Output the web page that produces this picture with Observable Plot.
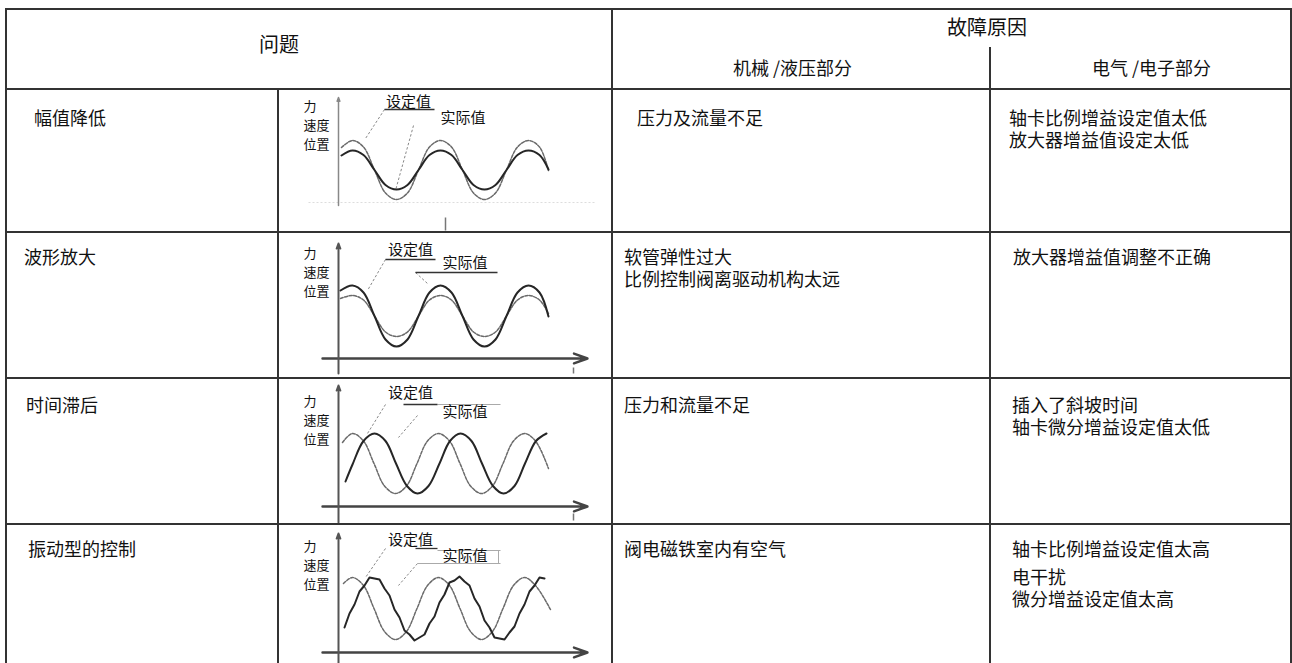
<!DOCTYPE html>
<html><head><meta charset="utf-8">
<script src="https://cdn.jsdelivr.net/npm/d3@7"></script>
<script src="https://cdn.jsdelivr.net/npm/@observablehq/plot@0.6"></script>
<style>
html,body{margin:0;padding:0;background:#fff;}
body{width:1292px;height:663px;overflow:hidden;position:relative;font-family:"Noto Sans CJK SC","Noto Sans",sans-serif;color:#111;}
.hl{position:absolute;height:2px;background:#333;}
.vl{position:absolute;width:2px;background:#333;}
.tx{position:absolute;white-space:pre;}
.cell{position:absolute;overflow:hidden;}
.cell svg{max-width:none !important;display:block;}
</style></head><body>
<div id="root"></div>
<script>
// ---------- table content ----------
const headerProblem = "问题";
const headerCause = "故障原因";
const subHeaders = ["机械 /液压部分", "电气 /电子部分"];
const problems = ["幅值降低", "波形放大", "时间滞后", "振动型的控制"];
const mechCauses = [["压力及流量不足"], ["软管弹性过大", "比例控制阀离驱动机构太远"], ["压力和流量不足"], ["阀电磁铁室内有空气"]];
const elecCauses = [["轴卡比例增益设定值太低", "放大器增益值设定太低"], ["放大器增益值调整不正确"], ["插入了斜坡时间", "轴卡微分增益设定值太低"], ["轴卡比例增益设定值太高", "电干扰", "微分增益设定值太高"]];
const axisLabels = ["力", "速度", "位置"];
const seriesNames = ["设定值", "实际值"];

// ---------- waveforms (t = time, v = value) ----------
const tSet1 = [0.3,1.4,2.5,3.6,4.7,5.8,6.9,8.0,9.1,10.2,11.3,12.4,13.5,14.6,15.7,16.8,17.9,19.0,20.1,21.0];
const vSet1 = [6.9,7.6,6.95,4.65,2.35,1.7,2.35,4.65,6.95,7.6,6.95,4.65,2.35,1.7,2.35,4.65,6.95,7.6,6.95,4.6];
const tAct1 = [0.3,1.4,2.5,3.6,4.7,5.8,6.9,8.0,9.1,10.2,11.3,12.4,13.5,14.6,15.7,16.8,17.9,19.0,20.1,21.0];
const vAct1 = [6.1,6.6,6.15,4.65,3.15,2.7,3.15,4.65,6.15,6.6,6.15,4.65,3.15,2.7,3.15,4.65,6.15,6.6,6.15,4.7];

const tSet2 = [0.2,1.4,2.5,3.6,4.7,5.8,6.9,8.0,9.1,10.2,11.3,12.4,13.5,14.6,15.7,16.8,17.9,19.0,20.1,21.0];
const vSet2 = [6.1,6.4,5.95,4.35,2.75,2.3,2.75,4.35,5.95,6.4,5.95,4.35,2.75,2.3,2.75,4.35,5.95,6.4,5.95,4.6];
const tAct2 = [0.2,1.4,2.5,3.6,4.7,5.8,6.9,8.0,9.1,10.2,11.3,12.4,13.5,14.6,15.7,16.8,17.9,19.0,20.1,21.0];
const vAct2 = [6.9,7.4,6.7,4.35,2.0,1.3,2.0,4.35,6.7,7.4,6.7,4.35,2.0,1.3,2.0,4.35,6.7,7.4,6.7,4.3];

const tSet3 = [0.4,1.4,2.5,3.55,4.6,5.7,6.8,7.85,8.9,10.0,11.1,12.15,13.2,14.3,15.4,16.45,17.5,18.6,19.7,21.0];
const vSet3 = [6.3,7.2,6.45,4.2,1.95,1.2,1.95,4.2,6.45,7.2,6.45,4.2,1.95,1.2,1.95,4.2,6.45,7.2,6.45,3.7];
const tAct3 = [0.7,1.4,2.5,3.6,4.7,5.75,6.85,7.9,9.0,10.1,11.15,12.2,13.3,14.35,15.45,16.5,17.6,18.65,19.75,20.8];
const vAct3 = [2.4,4.1,6.45,7.2,6.45,4.2,1.95,1.2,1.95,4.2,6.45,7.2,6.45,4.2,1.95,1.2,1.95,4.2,6.45,7.2];

const tSet4 = [0.5,1.4,2.5,3.55,4.6,5.7,6.8,7.85,8.9,10.0,11.1,12.15,13.2,14.3,15.4,16.45,17.5,18.6,19.7,21.2];
const vSet4 = [6.8,7.4,6.6,4.3,2.0,1.2,2.0,4.3,6.6,7.4,6.6,4.3,2.0,1.2,2.0,4.3,6.6,7.4,6.6,4.2];
const tAct4 = [0.6,1.1,1.6,2.1,2.6,3.1,3.6,4.1,4.6,5.1,5.6,6.1,6.6,7.1,7.6,8.1,8.6,9.1,9.6,10.1,10.6,11.1,11.6,12.1,12.6,13.1,13.6,14.1,14.6,15.1,15.6,16.1,16.6,17.1,17.6,18.1,18.6,19.1,19.6,20.1,20.6];
const vAct4 = [2.4,3.8,4.7,6.0,6.6,7.4,7.3,7.2,6.3,5.6,4.2,3.4,2.1,1.7,1.1,1.4,1.7,2.8,3.5,4.9,5.7,6.9,7.1,7.5,7.0,6.6,5.3,4.5,3.1,2.4,1.4,1.3,1.2,1.9,2.5,3.8,4.7,6.0,6.6,7.4,7.3];

// ---------- annotation geometry in data units (t, v) ----------
const labelTopV = [11.9, 11.5, 11.3, 11.4];
const nameAt = [[[7.0, 11.4], [12.45, 9.8]], [[7.2, 10.9], [12.65, 9.6]], [[7.2, 11.2], [12.65, 9.3]], [[7.2, 11.1], [12.65, 9.5]]];
const darkSegs = [
  [[4.6,10.7,9.6,10.7]],
  [[4.7,10.0,9.7,10.0],[7.7,8.7,15.9,8.7]],
  [[6.5,10.1,9.9,10.1]],
  [[7.7,10.3,9.9,10.3]]
];
const lightSegs = [
  [],
  [],
  [[9.9,10.1,16.2,10.1]],
  [[9.9,10.1,16.2,10.1],[16.0,10.1,16.0,8.8],[7.9,8.8,16.2,8.8]]
];
const leaderSegs = [
  [[4.6,10.7,2.7,7.8],[7.5,9.1,5.7,2.6]],
  [[4.7,10.0,2.9,6.9],[7.7,8.7,8.9,7.6]],
  [[4.7,10.1,2.9,7.2],[7.9,9.0,6.0,6.8]],
  [[4.7,10.3,2.7,7.4],[7.9,8.8,6.0,6.6]]
];
const yAxisSpan = [[1.1, 11.9], [-1.4, 11.6], [-1.7, 12.0], [-3.0, 11.8]];
const xAxisV = [null, 0.1, -0.1, -0.1];
const tMark = [[10.7,-0.1,-1.4],[23.5,-0.8,-1.4],[23.5,-0.8,-1.5],[23.5,-1.2,-2.0]];

const sets = [[tSet1,vSet1],[tSet2,vSet2],[tSet3,vSet3],[tSet4,vSet4]];
const acts = [[tAct1,vAct1],[tAct2,vAct2],[tAct3,vAct3],[tAct4,vAct4]];

// ---------- layout ----------
const colX = [5.5, 278, 612, 990, 1291];
const rowTop = [89, 232, 378, 524];
const rowH = [143, 146, 146, 145];
const root = document.getElementById("root");

function wave([ts, vs]) { return ts.map((t, k) => ({t, v: vs[k]})); }
function segs(a) { return a.map(([t1, v1, t2, v2]) => ({t1, v1, t2, v2})); }

function chart(i) {
  const lbl = [{t: -3.5, v: labelTopV[i], s: axisLabels.join("\n")}];
  const names = seriesNames.map((s, k) => ({t: nameAt[i][k][0], v: nameAt[i][k][1], s}));
  const marks = [];
  if (i === 0) {
    marks.push(Plot.link([{t1:-3, v1:1.4, t2:25.8, v2:1.4}], {x1:"t1", y1:"v1", x2:"t2", y2:"v2", stroke:"#ddd", strokeWidth:1.2, strokeDasharray:"2,2"}));
  }
  if (xAxisV[i] !== null) {
    marks.push(Plot.arrow([{t1:-1.6, v1:xAxisV[i], t2:24.9, v2:xAxisV[i]}], {x1:"t1", y1:"v1", x2:"t2", y2:"v2", stroke:"#444", strokeWidth:2.4, headLength:9, headAngle:40}));
  }
  marks.push(Plot.arrow([{t1:0, v1:yAxisSpan[i][0], t2:0, v2:yAxisSpan[i][1]}], {x1:"t1", y1:"v1", x2:"t2", y2:"v2", stroke: i === 0 ? "#888" : "#555", strokeWidth: i === 0 ? 1.5 : 2, headLength:4, headAngle:40}));
  marks.push(Plot.link([{t:tMark[i][0], a:tMark[i][1], b:tMark[i][2]}], {x1:"t", x2:"t", y1:"a", y2:"b", stroke:"#777", strokeWidth:1.5}));
  marks.push(Plot.link(segs(leaderSegs[i]), {x1:"t1", y1:"v1", x2:"t2", y2:"v2", stroke:"#888", strokeWidth:1, strokeDasharray:"2.5,2"}));
  marks.push(Plot.link(segs(lightSegs[i]), {x1:"t1", y1:"v1", x2:"t2", y2:"v2", stroke:"#aaa", strokeWidth:1}));
  marks.push(Plot.link(segs(darkSegs[i]), {x1:"t1", y1:"v1", x2:"t2", y2:"v2", stroke:"#333", strokeWidth:1.3}));
  marks.push(Plot.line(wave(sets[i]), {x:"t", y:"v", curve:"catmull-rom", stroke:"#6a6a6a", strokeWidth:1.5, strokeDasharray:"3,1.5"}));
  marks.push(Plot.line(wave(acts[i]), {x:"t", y:"v", curve: i === 3 ? "linear" : "catmull-rom", stroke:"#262626", strokeWidth:2}));
  marks.push(Plot.text(lbl, {x:"t", y:"v", text:"s", textAnchor:"start", lineAnchor:"top", lineHeight:1.46, fontSize:13, fill:"#111"}));
  marks.push(Plot.text(names, {x:"t", y:"v", text:"s", textAnchor:"middle", fontSize:15, fill:"#111"}));
  return Plot.plot({
    width: 334, height: rowH[i],
    marginTop: 0, marginRight: 0, marginBottom: 0, marginLeft: 0,
    x: {domain: [-6, 27.4], range: [0, 334], axis: null},
    y: {domain: [0, 12.7], range: [127, 0], axis: null},
    style: {fontFamily: "'Noto Sans CJK SC', sans-serif", background: "transparent", overflow: "visible"},
    marks
  });
}

// charts
rowTop.forEach((top, i) => {
  const d = document.createElement("div");
  d.className = "cell";
  Object.assign(d.style, {left: colX[1] + "px", top: top + "px", width: "334px", height: rowH[i] + "px"});
  d.appendChild(chart(i));
  root.appendChild(d);
});

// grid lines
function hline(y, x0, x1) { const d = document.createElement("div"); d.className = "hl"; Object.assign(d.style, {left: (x0 - 1) + "px", top: (y - 1) + "px", width: (x1 - x0 + 2) + "px"}); root.appendChild(d); }
function vline(x, y0, y1) { const d = document.createElement("div"); d.className = "vl"; Object.assign(d.style, {left: (x - 1) + "px", top: (y0 - 1) + "px", height: (y1 - y0 + 1) + "px"}); root.appendChild(d); }
hline(9, colX[0], colX[4]);
[89, 232, 378, 524].forEach(y => hline(y, colX[0], colX[4]));
vline(colX[0], 9, 700);
vline(colX[1], 89, 700);
vline(colX[2], 9, 700);
vline(colX[3], 48, 700);
vline(colX[4], 9, 700);

// texts: one block per group of lines (first line centre cy, line pitch lh)
function text(lines, left, cy, fs, lh) {
  const d = document.createElement("div");
  d.className = "tx";
  d.textContent = lines.join("\n");
  Object.assign(d.style, {left: left + "px", top: (cy - lh / 2 - 0.06 * fs) + "px", fontSize: fs + "px", lineHeight: lh + "px"});
  root.appendChild(d);
}
text([headerProblem], 259, 45, 20, 20);
text([headerCause], 947, 28, 20, 20);
text([subHeaders[0]], 733, 68, 18, 18);
text([subHeaders[1]], 1092, 68, 18, 18);

const probLeft = [34, 24, 26, 28];
const probY = [118, 257, 405, 549];
const mechLeft = [637, 624, 624, 624];
const elecLeft = [1009, 1013, 1012, 1012];
problems.forEach((p, i) => text([p], probLeft[i], probY[i], 18, 18));
mechCauses.forEach((lines, i) => text(lines, mechLeft[i], probY[i], 18, 22));
elecCauses.forEach((lines, i) => {
  if (i === 3) {
    text([lines[0]], elecLeft[i], 549, 18, 22);
    text(lines.slice(1), elecLeft[i], 577, 18, 22);
  } else {
    text(lines, elecLeft[i], probY[i], 18, 22);
  }
});
</script>
</body></html>
